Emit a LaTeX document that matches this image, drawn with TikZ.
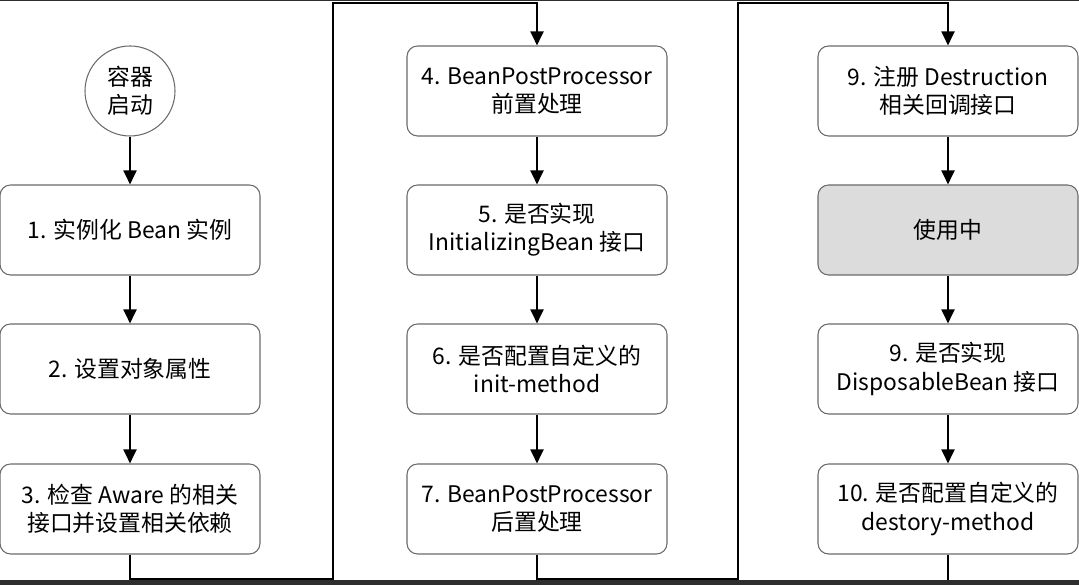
\documentclass[tikz,border=0pt]{standalone}
\usepackage{fontspec}
\setmainfont{Noto Sans CJK SC}
\usepackage{xcolor}
\definecolor{edge}{HTML}{6A6A6A}
\definecolor{busy}{HTML}{DCDCDC}
\definecolor{band}{HTML}{2E2E2E}
\usetikzlibrary{arrows.meta, positioning}

\begin{document}
\begin{tikzpicture}[
  every node/.style={font=\fontsize{13pt}{16pt}\selectfont, text=black},
  stage/.style={rectangle, rounded corners=6pt, draw=edge, line width=0.6pt, fill=white,
                minimum width=5.20cm, minimum height=1.80cm, align=center, inner sep=2pt},
  start/.style={circle, draw=edge, line width=0.6pt, minimum size=1.80cm,
                align=center, inner sep=0pt},
  flow/.style={-{Triangle[length=0.28cm, width=0.26cm]}, black, line width=1.1pt},
  wire/.style={black, line width=1.1pt}
]
  \useasboundingbox (0,0) rectangle (21.58,11.70);
  \fill[band] (0,0) rectangle (21.58,0.10);
  \fill[band] (0,11.67) rectangle (21.58,11.70);

  % first column
  \node[start] (boot) at (2.60, 9.88) {容器\\启动};
  \node[stage] (inst) at (2.60, 7.10) {1. 实例化 Bean 实例};
  \node[stage] (setprop) at (2.60, 4.32) {2. 设置对象属性};
  \node[stage] (aware) at (2.60, 1.52) {3. 检查 Aware 的相关\\接口并设置相关依赖};

  % second column
  \node[stage] (preproc) at (10.74, 9.88) {4. BeanPostProcessor\\前置处理};
  \node[stage] (initbean) at (10.74, 7.10) {5. 是否实现\\InitializingBean 接口};
  \node[stage] (initmeth) at (10.74, 4.32) {6. 是否配置自定义的\\init-method};
  \node[stage] (postproc) at (10.74, 1.52) {7. BeanPostProcessor\\后置处理};

  % third column
  \node[stage] (regdes) at (18.96, 9.88) {9. 注册 Destruction\\相关回调接口};
  \node[stage, fill=busy] (inuse) at (18.96, 7.10) {使用中};
  \node[stage] (dispbean) at (18.96, 4.32) {9. 是否实现\\DisposableBean 接口};
  \node[stage] (desmeth) at (18.96, 1.52) {10. 是否配置自定义的\\destory-method};

  \coordinate (lowA) at (6.66, 0.12);
  \coordinate (topA) at (6.66, 11.64);
  \coordinate (lowB) at (14.76, 0.12);
  \coordinate (topB) at (14.76, 11.64);
  \coordinate (lowC) at (18.96, 0.10);

  \draw[flow] (boot.south) -- (inst.north);
  \draw[flow] (inst.south) -- (setprop.north);
  \draw[flow] (setprop.south) -- (aware.north);
  \draw[flow] (aware.south) |- (lowA) -- (topA) -| (preproc.north);

  \draw[flow] (preproc.south) -- (initbean.north);
  \draw[flow] (initbean.south) -- (initmeth.north);
  \draw[flow] (initmeth.south) -- (postproc.north);
  \draw[flow] (postproc.south) |- (lowB) -- (topB) -| (regdes.north);

  \draw[flow] (regdes.south) -- (inuse.north);
  \draw[flow] (inuse.south) -- (dispbean.north);
  \draw[flow] (dispbean.south) -- (desmeth.north);
  \draw[wire] (desmeth.south) -- (lowC);
\end{tikzpicture}
\end{document}
